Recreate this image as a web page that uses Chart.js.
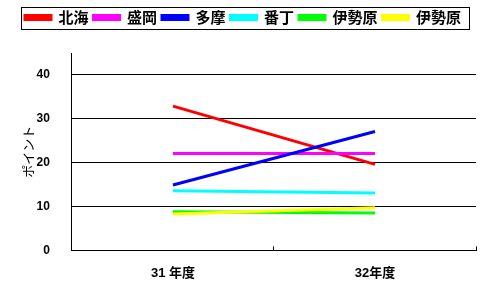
<!DOCTYPE html>
<html lang="ja">
<head>
    <meta charset="UTF-8">
    <title>ポイント推移</title>
    <script src="https://cdn.jsdelivr.net/npm/chart.js@4.4.1/dist/chart.umd.min.js"></script>
    <style>
        body { margin: 0; background: #fff; }
    </style>
</head>
<body>
    <canvas id="chart" width="489" height="296"></canvas>
    <script>
        // categories and series
        const years = ['31 年度', '32年度'];
        const hokkai = [32.9, 19.6];
        const morioka = [22.1, 22.1];
        const tama = [14.9, 27.1];
        const banchou = [13.6, 13.1];
        const isehara1 = [8.8, 8.5];
        const isehara2 = [8.3, 9.7];
        const yTicks = [0, 10, 20, 30, 40];

        const seriesNames = ['北海', '盛岡', '多摩', '番丁', '伊勢原', '伊勢原'];
        const seriesData = [hokkai, morioka, tama, banchou, isehara1, isehara2];
        const colors = ['#ff0000', '#ff00ff', '#0000ff', '#00ffff', '#00ff00', '#ffff00'];

        const jpFont = "'Liberation Sans', 'Noto Sans CJK JP', sans-serif";

        // extra room under the legend, and a box around its items
        const legendBorder = {
            id: 'legendBorder',
            beforeInit(chart) {
                const legend = chart.legend;
                const fit = legend.fit;
                legend.fit = function () {
                    fit.call(this);
                    this.height += 18;
                };
            },
            afterDraw(chart) {
                const boxes = chart.legend.legendHitBoxes;
                if (!boxes || !boxes.length) return;
                const first = boxes[0];
                const last = boxes[boxes.length - 1];
                const ctx = chart.ctx;
                const cy = first.top + first.height / 2;
                ctx.save();
                ctx.strokeStyle = '#000';
                ctx.lineWidth = 1;
                ctx.strokeRect(Math.round(first.left - 4) + 0.5, Math.round(cy - 11) + 0.5,
                    Math.round(last.left + last.width + 8 - (first.left - 4)), 22);
                ctx.restore();
            }
        };

        new Chart(document.getElementById('chart'), {
            type: 'line',
            data: {
                labels: years,
                datasets: seriesData.map((d, i) => ({
                    label: seriesNames[i],
                    data: d,
                    borderColor: colors[i],
                    backgroundColor: colors[i],
                    borderWidth: 3,
                    pointRadius: 0,
                    tension: 0,
                    order: seriesData.length - i
                }))
            },
            options: {
                responsive: false,
                animation: false,
                layout: { padding: { left: 20, right: 13, top: 5, bottom: 0 } },
                plugins: {
                    tooltip: { enabled: false },
                    legend: {
                        position: 'top',
                        align: 'start',
                        labels: {
                            boxWidth: 26,
                            boxHeight: 4,
                            padding: 5,
                            color: '#000',
                            font: { family: "'Noto Sans CJK JP', sans-serif", size: 15, weight: 'bold' },
                            sort: (a, b) => a.datasetIndex - b.datasetIndex
                        }
                    }
                },
                scales: {
                    x: {
                        offset: true,
                        afterFit: scale => { scale.height -= 4; },
                        grid: {
                            offset: true,
                            drawOnChartArea: false,
                            drawTicks: true,
                            tickLength: -4,
                            color: '#000'
                        },
                        border: { color: '#000', width: 1 },
                        ticks: {
                            color: '#000',
                            padding: 19,
                            font: { family: jpFont, size: 13, weight: 'bold' }
                        }
                    },
                    y: {
                        min: 0,
                        max: 45,
                        afterBuildTicks: axis => {
                            axis.ticks = yTicks.map(v => ({ value: v }));
                        },
                        grid: { color: '#000', drawTicks: true, tickLength: 21, tickColor: 'rgba(0,0,0,0)' },
                        border: { color: '#000', width: 1 },
                        ticks: {
                            color: '#000',
                            padding: 1,
                            font: { family: "'Liberation Sans', sans-serif", size: 12, weight: 'bold' }
                        },
                        title: {
                            display: true,
                            text: 'ポイント',
                            color: '#000',
                            padding: 0,
                            font: { family: "'Noto Sans CJK JP', sans-serif", size: 13 }
                        }
                    }
                }
            },
            plugins: [legendBorder]
        });
    </script>
</body>
</html>
